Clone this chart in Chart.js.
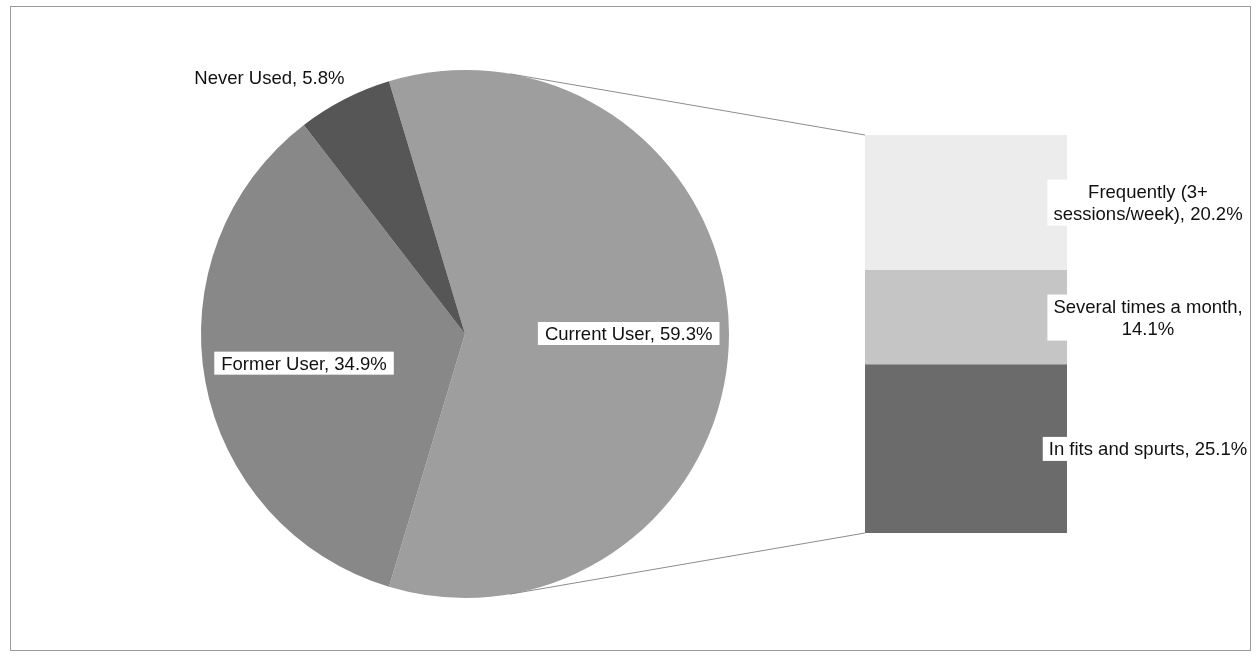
<!DOCTYPE html>
<html>
<head>
<meta charset="utf-8">
<title>Usage</title>
<script src="https://cdn.jsdelivr.net/npm/chart.js@4.4.1/dist/chart.umd.min.js"></script>
<style>
  html, body { margin: 0; padding: 0; background: #fff; }
  #wrap { position: relative; width: 1260px; height: 663px; }
  #wrap canvas { position: absolute; left: 0; top: 0; }
  #frame { position: absolute; left: 10px; top: 6px; width: 1239px; height: 643px;
           border: 1px solid #9a9a9a; pointer-events: none; z-index: 5; }
</style>
</head>
<body>
<div id="wrap">
  <canvas id="pieChart" width="1260" height="663"></canvas>
  <canvas id="barChart" width="1260" height="663"></canvas>
  <div id="frame"></div>
</div>
<script>
// Pie: overall usage
const pieLabels = ["Current User", "Former User", "Never Used"];
const pieValues = [59.3, 34.9, 5.8];
const pieColors = ["#9e9e9e", "#888888", "#565656"];

// Bar: breakdown of current users (bottom to top)
const barLabels = ["In fits and spurts", "Several times a month", "Frequently (3+ sessions/week)"];
const barValues = [25.1, 14.1, 20.2];
const barColors = ["#6b6b6b", "#c5c5c5", "#ececec"];

const FONT = '18.5px "Liberation Sans", Arial, sans-serif';
const pieTotal = pieValues.reduce((a, b) => a + b, 0);
const barTotal = barValues.reduce((a, b) => a + b, 0);

// split a label into lines no wider than maxWidth
function wrapText(ctx, text, maxWidth) {
    const words = text.split(" ");
    const lines = [];
    let line = "";
    words.forEach(w => {
        const test = line ? line + " " + w : w;
        if (line && ctx.measureText(test).width > maxWidth) {
            lines.push(line);
            line = w;
        } else {
            line = test;
        }
    });
    if (line) lines.push(line);
    return lines;
}

const pieLabelPlugin = {
    id: "pieLabels",
    afterDatasetsDraw(chart) {
        const ctx = chart.ctx;
        const arcs = chart.getDatasetMeta(0).data;
        ctx.save();
        ctx.font = FONT;
        ctx.textBaseline = "middle";
        arcs.forEach((arc, i) => {
            const text = pieLabels[i] + ", " + pieValues[i].toFixed(1) + "%";
            const mid = (arc.startAngle + arc.endAngle) / 2;
            const w = ctx.measureText(text).width;
            if (pieValues[i] / pieTotal < 0.1) {
                // thin slice: label goes outside, above-left of the rim
                const x = arc.x + Math.cos(mid) * arc.outerRadius;
                const y = arc.y + Math.sin(mid) * arc.outerRadius - 20;
                ctx.textAlign = "right";
                ctx.fillStyle = "#111";
                ctx.fillText(text, x, y);
            } else {
                const x = arc.x + Math.cos(mid) * arc.outerRadius * 0.62;
                const y = arc.y + Math.sin(mid) * arc.outerRadius * 0.62;
                ctx.fillStyle = "#fff";
                ctx.fillRect(x - w / 2 - 7, y - 12, w + 14, 23);
                ctx.textAlign = "center";
                ctx.fillStyle = "#111";
                ctx.fillText(text, x, y + 1);
            }
        });
        ctx.restore();
    }
};

const pieChart = new Chart(document.getElementById("pieChart"), {
    type: "pie",
    data: {
        labels: pieLabels,
        datasets: [{
            data: pieValues,
            backgroundColor: pieColors,
            borderWidth: 0
        }]
    },
    options: {
        responsive: false,
        animation: false,
        devicePixelRatio: 1,
        // first slice is centred on the right, facing the bar
        rotation: 90 - (pieValues[0] / pieTotal) * 180,
        layout: { padding: { left: 201, right: 531, top: 70, bottom: 65 } },
        plugins: {
            legend: { display: false },
            tooltip: { enabled: false }
        }
    },
    plugins: [pieLabelPlugin]
});

function tangentPoint(cx, cy, r, px, py, sign) {
    const dx = px - cx, dy = py - cy;
    const d = Math.hypot(dx, dy);
    const a = Math.atan2(dy, dx) + sign * Math.acos(r / d);
    return [cx + r * Math.cos(a), cy + r * Math.sin(a)];
}

// series lines from the pie to the stacked bar, plus the bar labels
const barExtrasPlugin = {
    id: "barExtras",
    afterDatasetsDraw(chart) {
        const ctx = chart.ctx;
        const metas = chart.data.datasets.map((d, i) => chart.getDatasetMeta(i).data[0]);
        const bottom = metas[0];
        const top = metas[metas.length - 1];
        const left = bottom.x - bottom.width / 2;

        const arc = pieChart.getDatasetMeta(0).data[0];
        ctx.save();
        ctx.strokeStyle = "#8c8c8c";
        ctx.lineWidth = 1;
        const t1 = tangentPoint(arc.x, arc.y, arc.outerRadius, left, top.y, -1);
        const t2 = tangentPoint(arc.x, arc.y, arc.outerRadius, left, bottom.base, 1);
        ctx.beginPath();
        ctx.moveTo(t1[0], t1[1]);
        ctx.lineTo(left, top.y);
        ctx.moveTo(t2[0], t2[1]);
        ctx.lineTo(left, bottom.base);
        ctx.stroke();

        ctx.font = FONT;
        ctx.textBaseline = "middle";
        ctx.textAlign = "center";
        const cx = chart.chartArea.right + 81;
        const lh = 22;
        metas.forEach((bar, i) => {
            const text = barLabels[i] + ", " + barValues[i].toFixed(1) + "%";
            const lines = wrapText(ctx, text, 205);
            const cy = (bar.y + bar.base) / 2;
            const w = Math.max(...lines.map(l => ctx.measureText(l).width));
            const h = lines.length * lh;
            ctx.fillStyle = "#fff";
            ctx.fillRect(cx - w / 2 - 6, cy - h / 2 - 1, w + 12, h + 2);
            ctx.fillStyle = "#111";
            lines.forEach((l, k) => {
                ctx.fillText(l, cx, cy - h / 2 + lh / 2 + k * lh + 1);
            });
        });
        ctx.restore();
    }
};

new Chart(document.getElementById("barChart"), {
    type: "bar",
    data: {
        labels: [""],
        datasets: barValues.map((v, i) => ({
            label: barLabels[i],
            data: [v],
            backgroundColor: barColors[i],
            borderWidth: 0,
            barPercentage: 1,
            categoryPercentage: 1
        }))
    },
    options: {
        responsive: false,
        animation: false,
        devicePixelRatio: 1,
        layout: { padding: { left: 865, right: 193, top: 135, bottom: 130 } },
        plugins: {
            legend: { display: false },
            tooltip: { enabled: false }
        },
        scales: {
            x: { display: false, stacked: true },
            y: { display: false, stacked: true, min: 0, max: barTotal }
        }
    },
    plugins: [barExtrasPlugin]
});
</script>
</body>
</html>
